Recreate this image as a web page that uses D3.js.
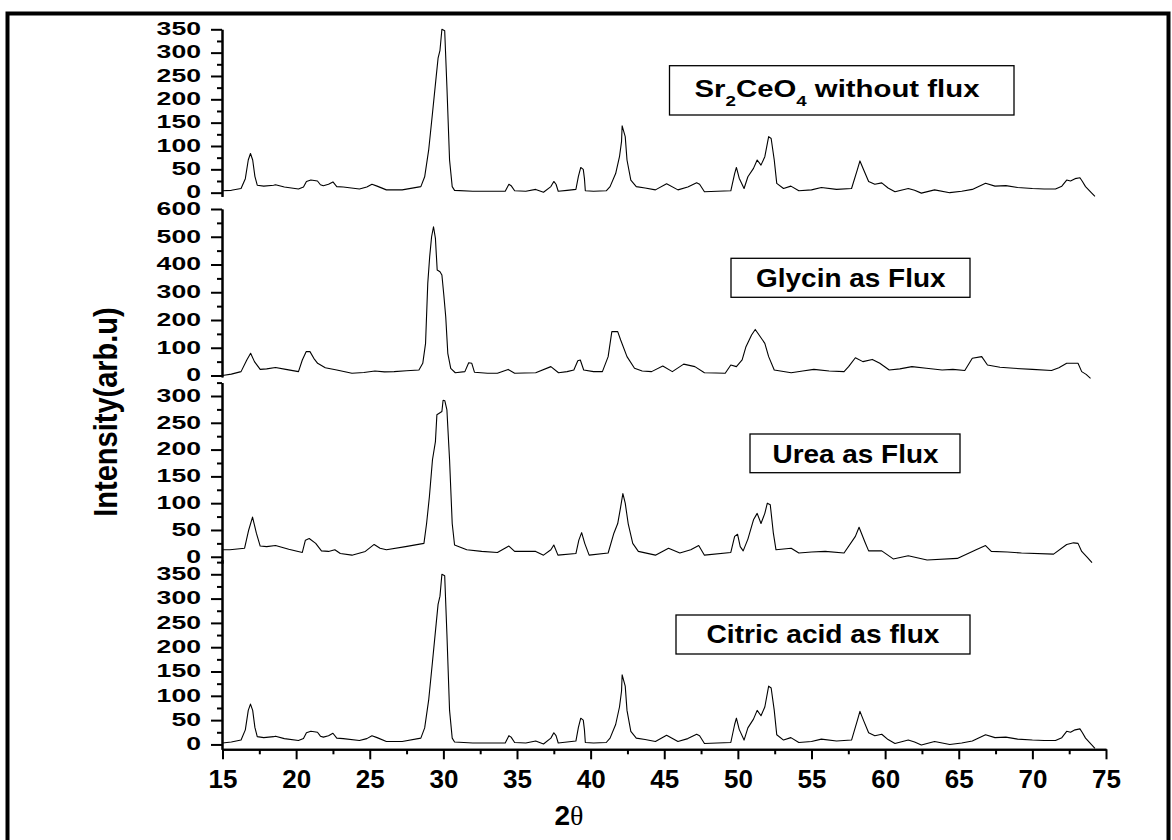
<!DOCTYPE html>
<html>
<head>
<meta charset="utf-8">
<script src="https://cdn.jsdelivr.net/npm/d3@7"></script>
<style>
  body { margin: 0; background: #fff; }
  svg { display: block; font-family: "Liberation Sans", Arial, sans-serif; }
</style>
</head>
<body>
<svg id="chart"></svg>
<script>
// Data: [2theta, intensity]
var withoutFlux = [[15.0,4],[15.6,5],[16.26,9],[16.55,30],[16.75,70],[16.9,84],[17.05,70],[17.2,35],[17.36,16],[17.8,14],[18.47,16],[18.6,17],[19.2,12],[20.16,8],[20.5,12],[20.7,24],[21.0,27],[21.45,25],[21.65,17],[21.85,15],[22.2,18],[22.5,23],[22.76,13],[23.2,12],[24.3,8],[24.8,12],[25.15,18],[25.5,14],[26.13,6],[27.2,6],[28.47,13],[28.73,34],[29.0,91],[29.26,170],[29.51,248],[29.64,288],[29.77,305],[29.9,350],[30.09,347],[30.24,227],[30.42,70],[30.6,13],[30.76,5],[32.0,3],[34.2,3],[34.45,18],[34.6,15],[34.84,4],[35.6,3],[36.27,7],[36.8,1],[37.3,13],[37.5,24],[37.65,18],[37.8,3],[38.4,5],[39.0,7],[39.17,35],[39.33,54],[39.5,50],[39.58,30],[39.64,4],[40.2,3],[41.06,4],[41.32,13],[41.7,41],[41.96,77],[42.1,110],[42.14,143],[42.35,120],[42.47,70],[42.73,27],[43.1,13],[43.7,10],[44.4,6],[45.16,19],[45.93,6],[46.6,12],[47.2,21],[47.4,18],[47.73,2],[48.6,3],[49.52,4],[49.78,41],[49.9,54],[50.09,31],[50.42,9],[50.68,34],[51.06,52],[51.31,70],[51.57,59],[51.83,77],[52.09,120],[52.26,116],[52.47,70],[52.64,20],[53.1,9],[53.6,14],[54.14,4],[55.0,6],[55.67,11],[56.7,7],[57.72,9],[58.11,49],[58.29,68],[58.54,49],[58.88,24],[59.3,18],[59.77,21],[60.2,10],[60.67,2],[61.57,9],[62.0,5],[62.46,-1],[63.36,6],[64.39,0],[65.2,3],[65.92,7],[66.82,20],[67.46,14],[68.2,15],[69.0,11],[70.0,9],[70.8,8],[71.57,8],[72.0,14],[72.33,27],[72.59,25],[72.9,30],[73.23,32],[73.4,24],[73.61,13],[74.0,0],[74.25,-8]];

var glycin = [[15.0,0],[15.6,5],[16.26,14],[16.65,56],[16.91,80],[17.17,50],[17.56,22],[18.0,24],[18.6,29],[19.3,22],[20.16,14],[20.42,56],[20.68,86],[20.94,86],[21.2,62],[21.46,44],[21.98,28],[22.76,20],[23.79,8],[24.6,11],[25.35,16],[26.0,13],[26.65,14],[27.5,17],[28.34,20],[28.6,44],[28.79,116],[28.94,332],[29.07,428],[29.2,500],[29.33,536],[29.46,494],[29.58,380],[29.77,374],[29.9,362],[30.03,290],[30.16,212],[30.3,80],[30.5,26],[30.81,10],[31.46,14],[31.72,46],[31.93,44],[32.11,12],[33.0,8],[33.67,8],[34.4,22],[34.84,8],[35.5,9],[36.27,10],[37.3,32],[37.82,10],[38.4,14],[38.86,20],[39.13,53],[39.3,56],[39.53,20],[40.2,14],[40.8,14],[41.19,68],[41.44,158],[41.84,158],[42.04,128],[42.47,68],[42.98,26],[43.5,16],[44.14,14],[44.9,34],[45.55,14],[46.32,41],[47.08,32],[47.73,10],[48.5,9],[49.14,8],[49.52,38],[49.9,32],[50.29,56],[50.55,104],[50.93,146],[51.18,166],[51.44,146],[51.83,116],[52.09,68],[52.47,20],[53.62,10],[54.4,16],[55.16,22],[56.2,16],[57.21,14],[57.52,32],[57.98,64],[58.49,50],[59.13,58],[59.64,44],[60.28,20],[61.0,24],[61.82,32],[62.8,26],[63.87,20],[64.6,22],[65.41,18],[65.92,62],[66.56,68],[66.95,38],[67.8,30],[68.74,26],[70.0,22],[71.3,18],[71.8,28],[72.33,44],[72.8,44],[73.1,44],[73.35,14],[73.65,4],[73.95,-10]];

var urea = [[15.0,13],[15.5,13],[16.5,16],[16.78,50],[17.04,74],[17.3,44],[17.56,20],[18.0,19],[18.6,21],[19.5,14],[20.42,8],[20.63,31],[20.89,34],[21.33,25],[21.72,11],[22.2,10],[22.63,13],[23.0,6],[23.79,3],[24.7,10],[25.3,23],[25.7,16],[26.13,13],[27.43,19],[28.68,25],[28.86,62],[29.05,112],[29.26,181],[29.46,215],[29.56,265],[29.9,271],[29.98,292],[30.1,291],[30.24,274],[30.42,181],[30.6,62],[30.76,22],[31.59,13],[32.6,10],[33.67,8],[34.45,20],[34.84,10],[36.27,10],[36.8,3],[37.3,13],[37.5,22],[37.78,3],[39.0,6],[39.2,31],[39.39,45],[39.6,25],[39.9,3],[41.19,7],[41.58,44],[41.84,62],[42.04,93],[42.19,118],[42.35,100],[42.55,62],[42.86,25],[43.24,10],[44.4,3],[45.29,16],[46.06,7],[46.8,13],[47.34,21],[47.73,3],[49.52,8],[49.78,38],[49.98,42],[50.16,19],[50.36,11],[50.68,33],[51.06,69],[51.31,81],[51.57,62],[51.83,81],[52.0,100],[52.2,97],[52.41,44],[52.59,13],[53.62,16],[54.14,7],[55.0,9],[55.93,10],[57.21,7],[57.98,38],[58.23,55],[58.62,28],[58.88,11],[59.77,11],[60.55,-4],[61.57,2],[62.85,-6],[64.9,-3],[66.18,13],[66.82,21],[67.21,10],[68.3,9],[69.26,7],[71.44,5],[72.33,23],[72.8,26],[73.1,25],[73.35,10],[73.7,0],[74.05,-11]];

var citricAcid = [[15.0,3],[15.6,5],[16.26,9],[16.55,30],[16.75,70],[16.9,83],[17.05,70],[17.2,35],[17.36,16],[17.8,14],[18.47,16],[18.6,17],[19.2,12],[20.16,8],[20.5,12],[20.7,24],[21.0,27],[21.45,25],[21.65,17],[21.85,15],[22.2,18],[22.5,23],[22.76,13],[23.2,12],[24.3,8],[24.8,12],[25.15,18],[25.5,14],[26.13,6],[27.2,6],[28.47,13],[28.73,34],[29.0,91],[29.26,170],[29.51,248],[29.64,288],[29.77,305],[29.9,350],[30.09,347],[30.24,227],[30.42,70],[30.6,13],[30.76,5],[32.0,3],[34.2,3],[34.45,18],[34.6,15],[34.84,4],[35.6,3],[36.27,7],[36.8,1],[37.3,13],[37.5,24],[37.65,18],[37.8,3],[38.4,5],[39.0,7],[39.17,35],[39.33,54],[39.5,50],[39.58,30],[39.64,4],[40.2,3],[41.06,4],[41.32,13],[41.7,41],[41.96,77],[42.1,110],[42.14,143],[42.35,120],[42.47,70],[42.73,27],[43.1,13],[43.7,10],[44.4,6],[45.16,19],[45.93,6],[46.6,12],[47.2,21],[47.4,18],[47.73,2],[48.6,3],[49.52,4],[49.78,41],[49.9,54],[50.09,31],[50.42,9],[50.68,34],[51.06,52],[51.31,70],[51.57,59],[51.83,77],[52.09,120],[52.26,116],[52.47,70],[52.64,20],[53.1,9],[53.6,14],[54.14,4],[55.0,6],[55.67,11],[56.7,7],[57.72,9],[58.11,49],[58.29,68],[58.54,49],[58.88,24],[59.3,18],[59.77,21],[60.2,10],[60.67,2],[61.57,9],[62.0,5],[62.46,-1],[63.36,6],[64.39,0],[65.2,3],[65.92,7],[66.82,20],[67.46,14],[68.2,15],[69.0,11],[70.0,9],[70.8,8],[71.57,8],[72.0,14],[72.33,27],[72.59,25],[72.9,30],[73.23,32],[73.4,24],[73.61,13],[74.0,0],[74.25,-8]];

// tick values
var xMajor = [15, 20, 25, 30, 35, 40, 45, 50, 55, 60, 65, 70, 75];
var xMinor = [17.5, 22.5, 27.5, 32.5, 37.5, 42.5, 47.5, 52.5, 57.5, 62.5, 67.5, 72.5];
var yMajor350 = [0, 50, 100, 150, 200, 250, 300, 350];
var yMinor350 = [25, 75, 125, 175, 225, 275, 325];
var yMajor600 = [0, 100, 200, 300, 400, 500, 600];
var yMinor600 = [50, 150, 250, 350, 450, 550];
var yMajor300 = [0, 50, 100, 150, 200, 250, 300];
var yMinor300 = [25, 75, 125, 175, 225, 275, 325];
var yMinor375 = [25, 75, 125, 175, 225, 275, 325, 375];

var svgWidth = 1172;
var svgHeight = 840;
var axisX = 222;

var svg = d3.select("#chart")
  .attr("width", svgWidth)
  .attr("height", svgHeight);

// outer frame
svg.append("rect")
  .attr("x", 7.5).attr("y", 13.5)
  .attr("width", 1161).attr("height", 850)
  .attr("fill", "none").attr("stroke", "#000").attr("stroke-width", 4);

var xScale = d3.scaleLinear().domain([15, 75]).range([222.5, 1106]);

// one layer per pattern, stacked top to bottom
var panels = [
  { data: withoutFlux, domain: [-8, 350], range: [196.4, 29.3], major: yMajor350, minor: yMinor350,
    box: { x: 669.5, y: 65.7, w: 344.5, h: 49.3, cx: 837, base: 96.7, tw: 285, fs: 23.5 } },
  { data: glycin, domain: [-5, 600], range: [376.9, 209], major: yMajor600, minor: yMinor600,
    box: { x: 731, y: 258.3, w: 239, h: 39, cx: 850.8, base: 287.3, tw: 189.5, fs: 25.5, text: "Glycin as Flux" } },
  { data: urea, domain: [-12, 325], range: [563.2, 382.6], major: yMajor300, minor: yMinor300,
    box: { x: 750, y: 434, w: 210, h: 38.7, cx: 855.5, base: 462.7, tw: 166, fs: 25.5, text: "Urea as Flux" } },
  { data: citricAcid, domain: [-10, 380], range: [749.3, 559.7], major: yMajor350, minor: yMinor375,
    box: { x: 676, y: 615, w: 294, h: 39, cx: 823, base: 643.3, tw: 233, fs: 25.5, text: "Citric acid as flux" } }
];

function styleAxis(g) {
  g.select(".domain").attr("stroke", "#000").attr("stroke-width", 2);
  g.selectAll(".tick line").attr("stroke", "#000").attr("stroke-width", 2);
}

panels.forEach(function (p, i) {
  var y = d3.scaleLinear().domain(p.domain).range(p.range);

  // minor ticks
  var gMinor = svg.append("g").attr("transform", `translate(${axisX},0)`)
    .call(d3.axisLeft(y).tickValues(p.minor).tickSize(5).tickSizeOuter(0).tickFormat(""));
  styleAxis(gMinor);

  // major ticks + labels
  var gMajor = svg.append("g").attr("transform", `translate(${axisX},0)`)
    .call(d3.axisLeft(y).tickValues(p.major).tickSize(11).tickSizeOuter(0));
  styleAxis(gMajor);
  gMajor.selectAll(".tick text")
    .attr("x", 0)
    .attr("dy", "0.28em")
    .attr("transform", "translate(-21,0) scale(1.4,1)")
    .attr("fill", "#000")
    .style("font-size", "19px")
    .style("font-weight", "bold")
    .style("font-family", "'Liberation Sans', Arial, sans-serif");

  // pattern
  var line = d3.line()
    .x(d => xScale(d[0]))
    .y(d => y(d[1]));

  svg.append("path")
    .datum(p.data)
    .attr("d", line)
    .attr("fill", "none")
    .attr("stroke", "#000")
    .attr("stroke-width", 1.1)
    .attr("stroke-linejoin", "round");

  // label box
  var b = p.box;
  svg.append("rect")
    .attr("x", b.x).attr("y", b.y).attr("width", b.w).attr("height", b.h)
    .attr("fill", "none").attr("stroke", "#000").attr("stroke-width", 1.3);

  var t = svg.append("text")
    .attr("text-anchor", "middle")
    .attr("x", 0).attr("y", 0)
    .style("font-size", b.fs + "px")
    .style("font-weight", "bold")
    .style("white-space", "pre");

  if (i === 0) {
    t.append("tspan").text("Sr");
    t.append("tspan").attr("dy", 9).style("font-size", "15px").text("2");
    t.append("tspan").attr("dy", -9).text("CeO");
    t.append("tspan").attr("dy", 9).style("font-size", "15px").text("4");
    t.append("tspan").attr("dy", -9).text(" without flux");
  } else {
    t.text(b.text);
  }
  var w = t.node().getBBox().width;
  t.attr("transform", `translate(${b.cx},${b.base}) scale(${b.tw / w},1)`);
});

// x axis
var xMinorG = svg.append("g").attr("transform", "translate(0,749.3)")
  .call(d3.axisBottom(xScale).tickValues(xMinor).tickSize(5).tickSizeOuter(0).tickFormat(""));
styleAxis(xMinorG);

var xMajorG = svg.append("g").attr("transform", "translate(0,749.3)")
  .call(d3.axisBottom(xScale).tickValues(xMajor).tickSize(10).tickSizeOuter(0));
styleAxis(xMajorG);
xMajorG.selectAll(".tick text")
  .attr("y", 39)
  .attr("dy", 0)
  .attr("fill", "#000")
  .style("font-size", "26px")
  .style("font-weight", "bold")
  .style("font-family", "'Liberation Sans', Arial, sans-serif");

// axis titles
var xTitle = svg.append("text")
  .attr("x", 569).attr("y", 825)
  .attr("text-anchor", "middle")
  .style("font-size", "28px")
  .style("font-weight", "bold");
xTitle.append("tspan").text("2");
xTitle.append("tspan")
  .style("font-family", "'Liberation Serif', 'DejaVu Serif', serif")
  .style("font-weight", "normal")
  .text("θ");

svg.append("text")
  .attr("transform", "translate(117,412) rotate(-90) scale(1,1.15)")
  .attr("text-anchor", "middle")
  .style("font-size", "29px")
  .style("font-weight", "bold")
  .text("Intensity(arb.u)");
</script>
</body>
</html>
